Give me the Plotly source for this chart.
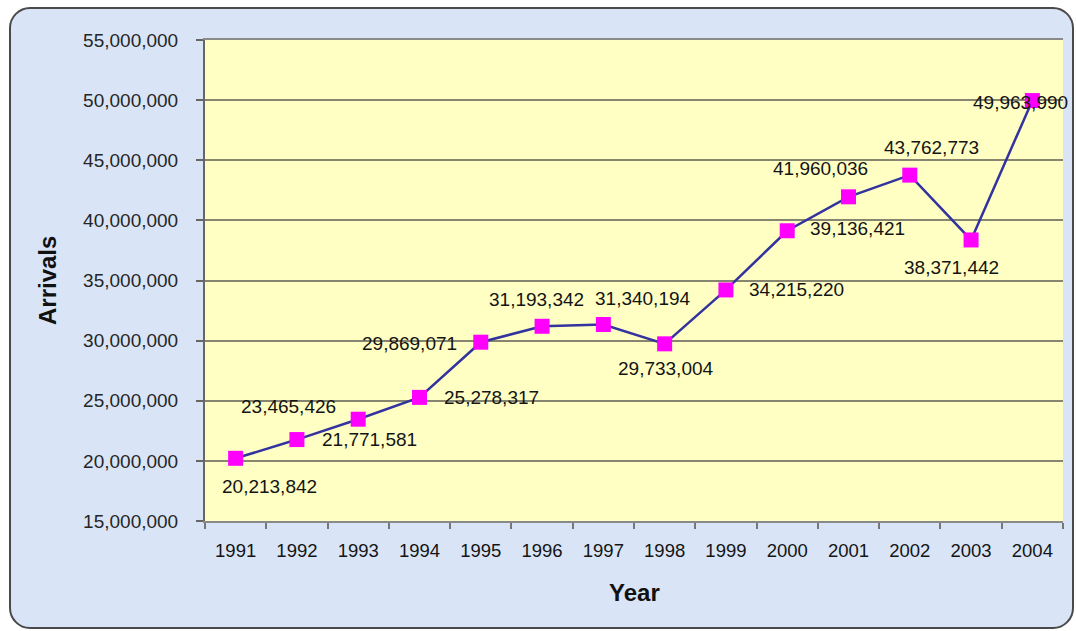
import plotly.graph_objects as go

# Annual arrivals
years = ["1991", "1992", "1993", "1994", "1995", "1996", "1997",
         "1998", "1999", "2000", "2001", "2002", "2003", "2004"]
arrivals = [20213842, 21771581, 23465426, 25278317, 29869071, 31193342, 31340194,
            29733004, 34215220, 39136421, 41960036, 43762773, 38371442, 49963990]

y_ticks = [15000000, 20000000, 25000000, 30000000, 35000000,
           40000000, 45000000, 50000000, 55000000]

W, H = 1076, 631
L, R, T, B = 205, 13, 40, 110
PW, PH = W - L - R, H - T - B

# label placement per point: (xanchor, xshift, yshift)
label_pos = [
    ("center", 34, -28), ("left", 23, 0), ("right", -20, 13), ("left", 22, 0),
    ("right", -22, -1), ("center", -6, 27), ("center", 40, 26), ("center", 1, -25),
    ("left", 21, 0), ("left", 21, 2), ("center", -28, 28), ("center", 22, 28),
    ("center", -20, -28), ("center", -12, -2),
]

def px_to_paper(x, y):
    return (x - L) / PW, (H - B - y) / PH

def rounded_rect(x0, y0, x1, y1, r):
    def p(x, y):
        a, b = px_to_paper(x, y)
        return f"{a:.5f},{b:.5f}"
    k = 0.55 * r
    return (f"M {p(x0 + r, y0)} L {p(x1 - r, y0)} "
            f"C {p(x1 - r + k, y0)} {p(x1, y0 + r - k)} {p(x1, y0 + r)} "
            f"L {p(x1, y1 - r)} "
            f"C {p(x1, y1 - r + k)} {p(x1 - r + k, y1)} {p(x1 - r, y1)} "
            f"L {p(x0 + r, y1)} "
            f"C {p(x0 + r - k, y1)} {p(x0, y1 - r + k)} {p(x0, y1 - r)} "
            f"L {p(x0, y0 + r)} "
            f"C {p(x0, y0 + r - k)} {p(x0 + r - k, y0)} {p(x0 + r, y0)} Z")

fig = go.Figure()

fig.add_trace(go.Scatter(
    x=years, y=arrivals, mode="lines+markers",
    line=dict(color="#33339F", width=2.5),
    marker=dict(symbol="square", size=15, color="#FF00FF", line=dict(width=0)),
    hoverinfo="x+y", showlegend=False,
))

annotations = []
for i, (val, (anc, dx, dy)) in enumerate(zip(arrivals, label_pos)):
    annotations.append(dict(
        x=i, y=val, xref="x", yref="y", text=f"{val:,}", showarrow=False,
        xanchor=anc, yanchor="middle", xshift=dx, yshift=dy,
        font=dict(family="Liberation Sans, Arial, sans-serif", size=19, color="#141414"),
    ))

annotations.append(dict(
    x=0.5, y=px_to_paper(0, 592)[1], xref="paper", yref="paper", text="<b>Year</b>",
    showarrow=False, xanchor="center", yanchor="middle",
    font=dict(family="Liberation Sans, Arial, sans-serif", size=24, color="#111111"),
))
annotations.append(dict(
    x=px_to_paper(47, 0)[0], y=px_to_paper(0, 281)[1], xref="paper", yref="paper",
    text="<b>Arrivals</b>", textangle=-90, showarrow=False,
    xanchor="center", yanchor="middle",
    font=dict(family="Liberation Sans, Arial, sans-serif", size=24, color="#111111"),
))

fig.update_layout(
    width=W, height=H,
    margin=dict(l=L, r=R, t=T, b=B, pad=0),
    paper_bgcolor="#FFFFFF",
    plot_bgcolor="#FFFFC4",
    annotations=annotations,
    shapes=[
        dict(type="path", xref="paper", yref="paper", layer="below",
             path=rounded_rect(10, 8, 1073, 628, 20),
             fillcolor="#D9E5F7", line=dict(color="#4a4a4a", width=2)),
        dict(type="rect", xref="paper", yref="paper", layer="below",
             x0=0, x1=1, y0=0, y1=1,
             fillcolor="#FFFFC4", line=dict(width=0)),
    ],
    xaxis=dict(
        type="category", range=[-0.5, 13.5], tickson="boundaries",
        ticks="outside", ticklen=6, tickcolor="#777777", tickwidth=2,
        showline=True, linecolor="#8a8a8a", linewidth=2, mirror=True,
        showgrid=False, zeroline=False, ticklabelstandoff=12,
        tickfont=dict(family="Liberation Sans, Arial, sans-serif", size=18.5, color="#141414"),
    ),
    yaxis=dict(
        range=[15000000, 55000000], tickvals=y_ticks,
        ticktext=[f"{v:,}" for v in y_ticks],
        ticks="outside", ticklen=7, tickcolor="#666666", tickwidth=2,
        showline=True, linecolor="#666666", linewidth=2,
        showgrid=True, gridcolor="#858570", gridwidth=2, zeroline=False,
        ticklabelstandoff=14,
        tickfont=dict(family="Liberation Sans, Arial, sans-serif", size=19, color="#262626"),
    ),
)

fig.write_html("out.html")
